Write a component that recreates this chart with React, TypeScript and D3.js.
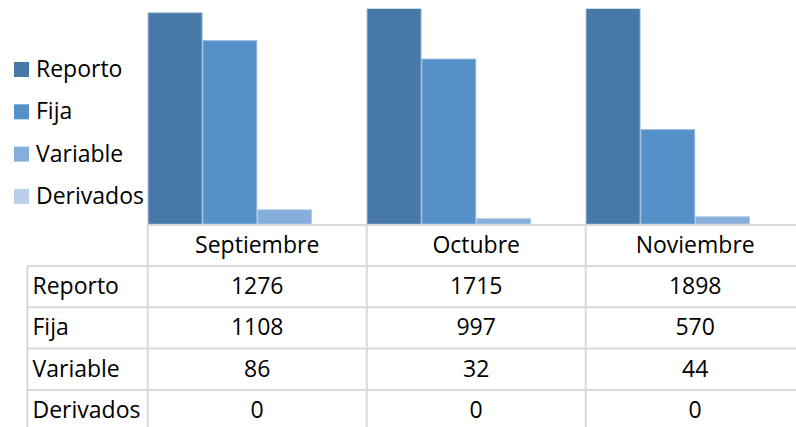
import React from "react";
import * as d3 from "d3";

const categories = ["Septiembre", "Octubre", "Noviembre"];
const seriesNames = ["Reporto", "Fija", "Variable", "Derivados"];
const reporto = [1276, 1715, 1898];
const fija = [1108, 997, 570];
const variable = [86, 32, 44];
const derivados = [0, 0, 0];
const seriesValues = [reporto, fija, variable, derivados];
const colors = ["#4678A8", "#5591C8", "#85AEDC", "#B9CFEA"];
const strokes = ["#7FA2C6", "#8DB4DB", "#B0CAE8", "#D5E2F3"];

const W = 796;
const H = 427;
const FONT = "'Open Sans', sans-serif";
const FS = 23;

export default function App() {
  const x0 = d3.scaleBand<string>().domain(categories).range([147.7, 804.7]).padding(0);
  const x1 = d3.scaleBand<string>().domain(seriesNames).range([0, x0.bandwidth()]).padding(0);
  const y = d3.scaleLinear().domain([0, 1300]).range([224, 9]);

  const tableTop = 224;
  const headerBottom = 266;
  const rowH = 41.3;
  const tableLeft = 27.3;
  const gridColor = "#D9D9D9";

  const rows = seriesNames.map((s, i) => ({ name: s, values: seriesValues[i], top: headerBottom + i * rowH }));

  return (
    <svg width={W} height={H} style={{ position: "absolute", left: 0, top: 0, background: "#fff" }} fontFamily={FONT}>
      <defs>
        <clipPath id="plot">
          <rect x={0} y={8.7} width={W} height={224 - 8.7} />
        </clipPath>
      </defs>
      <rect x={0} y={0} width={W} height={H} fill="#fff" />
      {/* bars */}
      <g clipPath="url(#plot)">
        {categories.map((c, ci) => (
          <g key={c} transform={`translate(${x0(c)},0)`}>
            {seriesNames.map((s, si) => {
              const v = seriesValues[si][ci];
              if (v <= 0) return null;
              const yt = y(v);
              return (
                <rect
                  key={s}
                  x={x1(s)! + 0.5}
                  y={yt}
                  width={x1.bandwidth() - 1}
                  height={y(0) - yt}
                  fill={colors[si]}
                  stroke={strokes[si]}
                  strokeWidth={1}
                />
              );
            })}
          </g>
        ))}
      </g>
      {/* legend */}
      {seriesNames.map((s, i) => (
        <g key={s} transform={`translate(14,${62 + i * 42.3})`}>
          <rect x={0} y={0} width={15} height={15} fill={colors[i]} />
          <text x={22} y={15} fontSize={FS} fill="#000">{s}</text>
        </g>
      ))}
      {/* table grid */}
      <g stroke={gridColor} strokeWidth={2} fill="none">
        <line x1={147.7} x2={W} y1={tableTop + 1} y2={tableTop + 1} />
        {rows.map((r) => (
          <line key={r.name} x1={tableLeft} x2={W} y1={r.top} y2={r.top} />
        ))}
        <line x1={tableLeft} x2={tableLeft} y1={headerBottom} y2={H} />
        {categories.map((c) => (
          <line key={c} x1={x0(c)!} x2={x0(c)!} y1={tableTop} y2={H} />
        ))}
        <line x1={804.7} x2={804.7} y1={tableTop} y2={H} />
      </g>
      {/* header text */}
      {categories.map((c) => (
        <text key={c} x={x0(c)! + x0.bandwidth() / 2} y={253} fontSize={FS} textAnchor="middle" fill="#000">
          {c}
        </text>
      ))}
      {/* rows */}
      {rows.map((r) => (
        <g key={r.name}>
          <text x={32.5} y={r.top + 28} fontSize={FS} fill="#000">{r.name}</text>
          {categories.map((c, ci) => (
            <text key={c} x={x0(c)! + x0.bandwidth() / 2} y={r.top + 28} fontSize={FS} textAnchor="middle" fill="#000">
              {r.values[ci]}
            </text>
          ))}
        </g>
      ))}
    </svg>
  );
}
